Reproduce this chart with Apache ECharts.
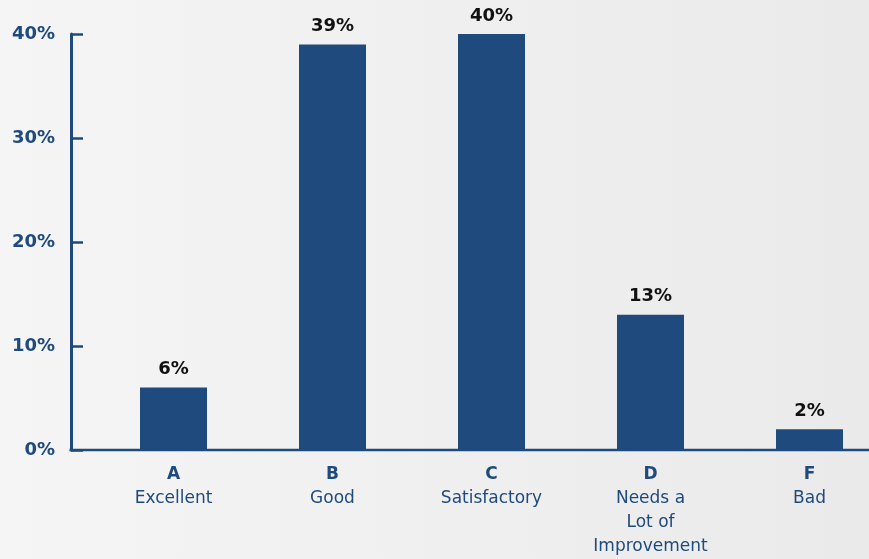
<!DOCTYPE html>
<html>
<head>
<meta charset="utf-8">
<style>
  html, body { margin: 0; padding: 0; }
  #chart { width: 869px; height: 559px; }
</style>
<script src="https://cdn.jsdelivr.net/npm/echarts@6/dist/echarts.min.js"></script>
</head>
<body>
<div id="chart"></div>
<script>
// Grade distribution
const grades = ['A', 'B', 'C', 'D', 'F'];
const gradeNames = ['Excellent', 'Good', 'Satisfactory', 'Needs a\nLot of\nImprovement', 'Bad'];
const shares = [6, 39, 40, 13, 2];
const yTicks = [0, 10, 20, 30, 40];

const NAVY = '#1f4a7d';
const FONT = '"DejaVu Sans", "Noto Sans", sans-serif';

const GRID_LEFT = 94;
const GRID_WIDTH = 795;
const Y_OFFSET = 23;

const chart = echarts.init(document.getElementById('chart'), null, { renderer: 'canvas' });

const categories = grades.map((g, i) => g + '\n' + gradeNames[i]);

chart.setOption({
  backgroundColor: {
    type: 'linear', x: 0, y: 0, x2: 1, y2: 0,
    colorStops: [
      { offset: 0, color: '#f5f5f5' },
      { offset: 1, color: '#eaeaea' }
    ]
  },
  animation: false,
  grid: {
    left: GRID_LEFT, width: GRID_WIDTH, top: 34, bottom: 109,
    containLabel: false, outerBoundsMode: 'none'
  },
  xAxis: {
    type: 'category',
    data: categories,
    axisLine: { show: false },
    axisTick: { show: false },
    axisLabel: {
      interval: 0,
      margin: 13,
      formatter: function (v) {
        const idx = v.indexOf('\n');
        const head = v.slice(0, idx);
        const rest = v.slice(idx + 1).split('\n').map(s => '{n|' + s + '}').join('\n');
        return '{g|' + head + '}\n' + rest;
      },
      rich: {
        g: { fontFamily: FONT, fontWeight: 'bold', fontSize: 17, color: NAVY, lineHeight: 24, align: 'center' },
        n: { fontFamily: FONT, fontSize: 17, color: NAVY, lineHeight: 24, align: 'center' }
      }
    }
  },
  yAxis: {
    type: 'value',
    min: yTicks[0],
    max: yTicks[yTicks.length - 1],
    interval: 10,
    offset: Y_OFFSET,
    axisLine: { show: true, lineStyle: { color: NAVY, width: 3 } },
    axisTick: { show: true, inside: true, length: 12, lineStyle: { color: NAVY, width: 2.5 } },
    splitLine: { show: false },
    axisLabel: {
      margin: 16,
      formatter: '{value}%',
      fontFamily: FONT,
      fontWeight: 'bold',
      fontSize: 18,
      color: NAVY
    }
  },
  series: [{
    type: 'bar',
    data: shares,
    barWidth: 67,
    itemStyle: { color: NAVY },
    label: {
      show: true,
      position: 'top',
      distance: 9,
      formatter: '{c}%',
      fontFamily: FONT,
      fontWeight: 'bold',
      fontSize: 18,
      color: '#111111'
    }
  }]
});

// Baseline drawn from the offset y-axis to the right edge, on top of the bars
const baseY = chart.convertToPixel({ yAxisIndex: 0 }, 0);
chart.setOption({
  graphic: [{
    type: 'line',
    z: 100,
    shape: { x1: GRID_LEFT - Y_OFFSET - 1.5, y1: baseY, x2: GRID_LEFT + GRID_WIDTH, y2: baseY },
    style: { stroke: NAVY, lineWidth: 2.5 },
    silent: true
  }]
});
</script>
</body>
</html>
